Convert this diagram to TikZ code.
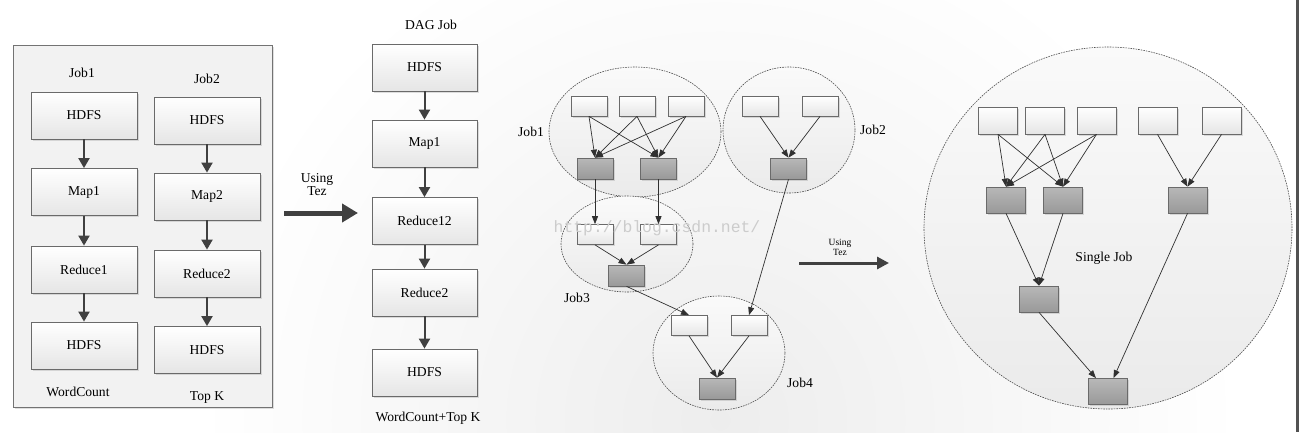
\documentclass[tikz,border=0pt]{standalone}
\usepackage{fontspec}
\setmainfont{Liberation Serif}
\newfontfamily\wmfont{Liberation Mono}
\usetikzlibrary{arrows.meta,shadows,shapes.geometric}
\definecolor{boxline}{HTML}{6A6A6A}
\definecolor{arrowc}{HTML}{404040}
\definecolor{thinc}{HTML}{303030}
\begin{document}
\begin{tikzpicture}[x=1pt,y=-1pt,
  every node/.style={font=\fontsize{13.6}{16}\selectfont},
  shad/.style={drop shadow={shadow xshift=1.5pt,shadow yshift=-1.5pt,opacity=0.25}},
  wbox/.style={draw=boxline,line width=0.8pt,top color=white,bottom color=black!10,
     minimum width=106pt,minimum height=47pt,inner sep=0pt,shad},
  swbox/.style={draw=boxline,line width=0.7pt,top color=white,bottom color=black!10,
     minimum width=36pt,minimum height=20pt,inner sep=0pt,shad},
  sgbox/.style={draw=boxline,line width=0.7pt,top color=black!28,bottom color=black!40,
     minimum width=36pt,minimum height=21pt,inner sep=0pt,shad},
  lwbox/.style={swbox,minimum width=39pt,minimum height=27pt},
  lgbox/.style={sgbox,minimum width=39pt,minimum height=26pt},
  jobell/.style={ellipse,draw=black!70,dash pattern=on 1.6pt off 1pt,line width=0.6pt,
     top color=black!2,bottom color=black!8,inner sep=0pt},
  panel/.style={draw=black!55,line width=0.8pt,fill=black!5,inner sep=0pt,shad},
  bigarrow/.style={draw=arrowc,line width=2pt,-{Triangle[width=11pt,length=10pt]}},
  thinarrow/.style={draw=thinc,line width=0.7pt,-{Triangle[width=6pt,length=8pt]}},
  fatarrow/.style={draw=arrowc,line width=5pt,-{Triangle[width=18pt,length=16pt]}},
  medarrow/.style={draw=arrowc,line width=3pt,-{Triangle[width=12pt,length=12pt]}},
  lbl/.style={inner sep=0pt},
  slbl/.style={inner sep=0pt,font=\fontsize{9.5}{11}\selectfont,align=center}
]
\useasboundingbox (0,0) rectangle (1299,432);
% background
\fill[white] (0,0) rectangle (1299,432);
\begin{scope}
  \clip (0,0) rectangle (1299,432);
  \shade[inner color=black!7,outer color=white] (720pt,-420pt) circle (520pt);
\end{scope}
\fill[black!68] (1296,0) rectangle (1299,432);

% ---------- left panel ----------
\node[panel,minimum width=259pt,minimum height=362pt] (leftpanel) at (142.5,226) {};
\node[lbl] (lj1) at (82,73) {Job1};
\node[lbl] (lj2) at (207,79) {Job2};
\node[wbox] (a1) at (84,115.5) {HDFS};
\node[wbox] (a2) at (84,192) {Map1};
\node[wbox] (a3) at (84,269.5) {Reduce1};
\node[wbox] (a4) at (84,345.5) {HDFS};
\node[wbox] (b1) at (207,120.5) {HDFS};
\node[wbox] (b2) at (207,196.5) {Map2};
\node[wbox] (b3) at (207,273.5) {Reduce2};
\node[wbox] (b4) at (207,350) {HDFS};
\node[lbl] (lwc) at (78,392) {WordCount};
\node[lbl] (ltk) at (207,397) {Top K};
\draw[bigarrow] (a1) -- (a2);
\draw[bigarrow] (a2) -- (a3);
\draw[bigarrow] (a3) -- (a4);
\draw[bigarrow] (b1) -- (b2);
\draw[bigarrow] (b2) -- (b3);
\draw[bigarrow] (b3) -- (b4);

% ---------- using tez 1 ----------
\node[lbl,align=center] (ut1) at (317,185) {Using\\[-3pt]Tez};
\coordinate (t1s) at (284,213);
\coordinate (t1e) at (358,213);
\draw[fatarrow] (t1s) -- (t1e);

% ---------- middle DAG job ----------
\node[lbl] (ldag) at (431,25) {DAG Job};
\node[wbox,minimum width=105pt] (m1) at (424.5,67.5) {HDFS};
\node[wbox,minimum width=105pt] (m2) at (424.5,143.5) {Map1};
\node[wbox,minimum width=105pt] (m3) at (424.5,221) {Reduce12};
\node[wbox,minimum width=105pt] (m4) at (424.5,292.5) {Reduce2};
\node[wbox,minimum width=105pt] (m5) at (424.5,372.5) {HDFS};
\node[lbl] (lwt) at (428,418) {WordCount+Top K};
\draw[bigarrow] (m1) -- (m2);
\draw[bigarrow] (m2) -- (m3);
\draw[bigarrow] (m3) -- (m4);
\draw[bigarrow] (m4) -- (m5);

% ---------- jobs DAG ----------
\node[jobell,minimum width=172pt,minimum height=130pt] (E1) at (635,132) {};
\node[jobell,minimum width=132pt,minimum height=126pt] (E2) at (789,130) {};
\node[jobell,minimum width=132pt,minimum height=96pt] (E3) at (627,244) {};
\node[jobell,minimum width=132pt,minimum height=114pt] (E4) at (719,353) {};
\node[lbl] (dj1) at (531,132) {Job1};
\node[lbl] (dj2) at (873,130) {Job2};
\node[lbl] (dj3) at (577,298) {Job3};
\node[lbl] (dj4) at (800,383) {Job4};

\node[swbox] (p1) at (589,106) {};
\node[swbox] (p2) at (637,106) {};
\node[swbox] (p3) at (686,106) {};
\node[sgbox] (q1) at (595,168.5) {};
\node[sgbox] (q2) at (658.5,168.5) {};
\node[swbox] (r1) at (760,106) {};
\node[swbox] (r2) at (820,106) {};
\node[sgbox] (rg) at (788.5,168.5) {};
\node[swbox] (s1) at (595,234.5) {};
\node[swbox] (s2) at (658.5,234.5) {};
\node[sgbox] (sg) at (626.5,275.5) {};
\node[swbox] (u1) at (689,325.5) {};
\node[swbox] (u2) at (749,325.5) {};
\node[sgbox] (ug) at (717,388.5) {};

\foreach \i in {p1,p2,p3}{
  \draw[thinarrow] (\i.south) -- (q1.north);
  \draw[thinarrow] (\i.south) -- (q2.north);
}
\draw[thinarrow] (r1.south) -- (rg.north);
\draw[thinarrow] (r2.south) -- (rg.north);
\draw[thinarrow] (q1.south) -- (s1.north);
\draw[thinarrow] (q2.south) -- (s2.north);
\draw[thinarrow] (s1.south) -- (sg.north);
\draw[thinarrow] (s2.south) -- (sg.north);
\draw[thinarrow] (sg.south) -- (u1.north);
\draw[thinarrow] (rg.south) -- (u2.north);
\draw[thinarrow] (u1.south) -- (ug.north);
\draw[thinarrow] (u2.south) -- (ug.north);

% ---------- using tez 2 ----------
\node[slbl] (ut2) at (840,247.5) {Using\\[-1pt]Tez};
\coordinate (t2s) at (799,263);
\coordinate (t2e) at (889,263);
\draw[medarrow] (t2s) -- (t2e);

% ---------- single job ----------
\node[jobell,minimum width=368pt,minimum height=362pt] (SJ) at (1108,228) {};
\node[lbl] (lsj) at (1104,258) {Single Job};
\node[lwbox] (x1) at (998,120.5) {};
\node[lwbox] (x2) at (1045,120.5) {};
\node[lwbox] (x3) at (1096.5,120.5) {};
\node[lwbox] (x4) at (1157.5,120.5) {};
\node[lwbox] (x5) at (1221.5,120.5) {};
\node[lgbox] (y1) at (1006,200) {};
\node[lgbox] (y2) at (1063,200) {};
\node[lgbox] (y3) at (1187.5,200) {};
\node[lgbox] (y4) at (1039,299) {};
\node[lgbox] (y5) at (1107.5,391.5) {};
\foreach \i in {x1,x2,x3}{
  \draw[thinarrow] (\i.south) -- (y1.north);
  \draw[thinarrow] (\i.south) -- (y2.north);
}
\draw[thinarrow] (x4.south) -- (y3.north);
\draw[thinarrow] (x5.south) -- (y3.north);
\draw[thinarrow] (y1.south) -- (y4.north);
\draw[thinarrow] (y2.south) -- (y4.north);
\draw[thinarrow] (y4.south) -- (y5);
\draw[thinarrow] (y3.south) -- (y5);

% watermark
\node[inner sep=0pt,text=black!20,font=\wmfont\fontsize{16.4}{16.4}\selectfont] (wm) at (657,228) {http://blog.csdn.net/};
\end{tikzpicture}
\end{document}
